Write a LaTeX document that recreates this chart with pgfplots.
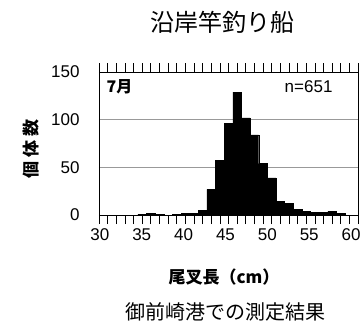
\documentclass[border=0pt]{standalone}
\usepackage{pgfplots}
\pgfplotsset{compat=1.18}
\usepackage{fontspec}
\setmainfont{Liberation Sans}
\newfontfamily\cjk{Noto Sans CJK JP}
\begin{document}
\begin{tikzpicture}
\path[use as bounding box] (-99pt,-107pt) rectangle (265pt,215pt);
\begin{axis}[
 scale only axis, width=259pt, height=143pt,
 xmin=30,xmax=60,ymin=0,ymax=150,
 xtick={30.1,34.95,39.8,44.65,49.5,54.35,59.2},
 xticklabels={30,35,40,45,50,55,60},
 minor xtick={30,31,...,60},
 ytick={0,50,100,150},
 yticklabel={\pgfmathprintnumber{\tick}\hspace*{16pt}},
 tick align=center,
 major tick length=0pt, minor tick length=9pt,
 ytick style={draw=none},
 minor tick style={black, line width=0.6pt},
 ymajorgrids, grid style={gray!80, line width=0.6pt},
 axis line style={line width=0.8pt},
 /pgf/number format/assume math mode=true,
 tick label style={font=\fontsize{17}{20}\selectfont},
 xticklabel style={yshift=-10pt},
 ybar, bar width=1,
]
\addplot[fill=black, draw=black] coordinates {
(35,1) (36,2) (37,1) (38,0) (39,1) (40,2) (41,2) (42,5) (43,27) (44,57)
(45,96) (46,129) (47,102) (48,84) (49,54) (50,39) (51,14) (52,12) (53,6)
(54,4) (55,3) (56,3) (57,4) (58,2)
};
\end{axis}
\node[font=\cjk\fontsize{24}{24}\selectfont] at (123pt,193pt) {沿岸竿釣り船};
\node[font=\cjk\bfseries\fontsize{16}{16}\selectfont, anchor=west] at (4pt,128pt) {7月};
\node[font=\fontsize{17}{17}\selectfont, anchor=east] at (237pt,128pt) {n=651};
\node[font=\cjk\bfseries\fontsize{17}{17}\selectfont] at (125pt,-62pt) {尾叉長（cm）};
\node[font=\cjk\bfseries\fontsize{17}{17}\selectfont, rotate=90] at (-68pt,66pt) {個\hspace{4pt}体\hspace{4pt}数};
\node[font=\cjk\fontsize{20}{20}\selectfont, inner sep=0pt] at (126pt,-97pt) {御前崎港での測定結果};
\end{tikzpicture}
\end{document}
